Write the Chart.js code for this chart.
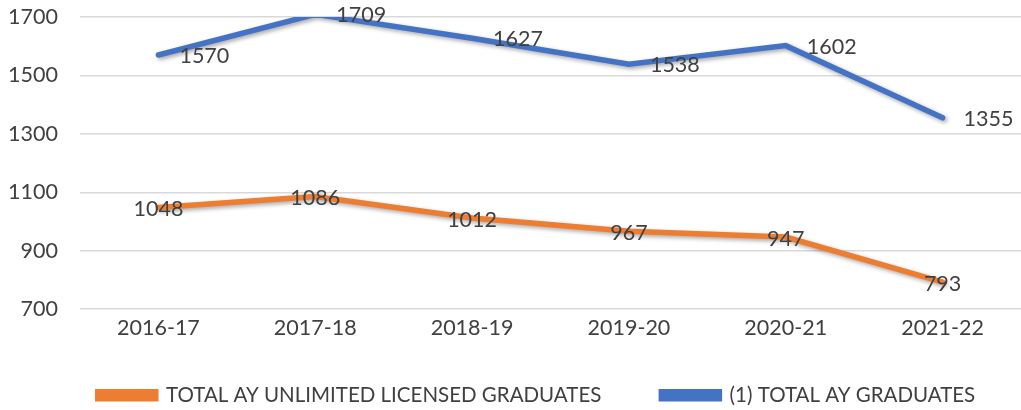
<!DOCTYPE html>
<html>
<head>
<meta charset="utf-8">
<script src="https://cdn.jsdelivr.net/npm/chart.js@4/dist/chart.umd.min.js"></script>
<style>
  html, body { margin: 0; padding: 0; background: #fff; }
  #wrap { width: 1021px; height: 410px; }
</style>
</head>
<body>
<div id="wrap"><canvas id="chart"></canvas></div>
<script>
const years = ['2016-17', '2017-18', '2018-19', '2019-20', '2020-21', '2021-22'];
const licensedGrads = [1048, 1086, 1012, 967, 947, 793];
const totalGrads = [1570, 1709, 1627, 1538, 1602, 1355];
const yTicks = [700, 900, 1100, 1300, 1500, 1700];

const FONT = 'Lato, "Open Sans", sans-serif';
const TEXT = '#404040';

// soft shadow under the lines, like the office chart
const shadowPlugin = {
    id: 'lineShadow',
    beforeDatasetDraw(chart) {
        const ctx = chart.ctx;
        ctx.save();
        ctx.shadowColor = 'rgba(0,0,0,0.35)';
        ctx.shadowBlur = 4;
        ctx.shadowOffsetX = 2;
        ctx.shadowOffsetY = 2;
    },
    afterDatasetDraw(chart) {
        chart.ctx.restore();
    }
};

// value labels: orange centred on the point, blue to the right
const valueLabels = {
    id: 'valueLabels',
    afterDatasetsDraw(chart) {
        const ctx = chart.ctx;
        ctx.save();
        ctx.font = '21.5px ' + FONT;
        ctx.fillStyle = TEXT;
        ctx.textBaseline = 'middle';
        chart.data.datasets.forEach((ds, i) => {
            const meta = chart.getDatasetMeta(i);
            meta.data.forEach((pt, j) => {
                const v = ds.data[j];
                if (i === 0) {
                    ctx.textAlign = 'center';
                    ctx.fillText(v, pt.x, pt.y + 2);
                } else {
                    ctx.textAlign = 'left';
                    ctx.fillText(v, pt.x + 21, pt.y + 1);
                }
            });
        });
        ctx.restore();
    }
};

// legend: wide gaps between items, but keep its box short and nudge it into place
const legendPlace = {
    id: 'legendPlace',
    beforeInit(chart) {
        const fit = chart.legend.fit;
        chart.legend.fit = function () {
            fit.call(this);
            this.height = 63;
        };
    },
    afterLayout(chart) {
        const lg = chart.legend;
        lg.top = 325;
        lg.left += 21;
        lg.right += 21;
    }
};

new Chart(document.getElementById('chart'), {
    type: 'line',
    data: {
        labels: years,
        datasets: [
            {
                label: 'TOTAL AY UNLIMITED LICENSED GRADUATES',
                data: licensedGrads,
                borderColor: '#ED7D31',
                backgroundColor: '#ED7D31',
                borderWidth: 5.5,
                borderCapStyle: 'round',
                pointRadius: 0,
                tension: 0
            },
            {
                label: '(1) TOTAL AY GRADUATES',
                data: totalGrads,
                borderColor: '#4472C4',
                backgroundColor: '#4472C4',
                borderWidth: 5.5,
                borderCapStyle: 'round',
                pointRadius: 0,
                tension: 0
            }
        ]
    },
    options: {
        responsive: true,
        maintainAspectRatio: false,
        animation: false,
        layout: { padding: { top: 17, left: 10, right: 0, bottom: 0 } },
        scales: {
            x: {
                offset: true,
                grid: { display: false, drawTicks: false },
                border: { display: false },
                afterFit(scale) {
                    scale.paddingLeft = 0;
                    scale.paddingRight = 0;
                },
                ticks: { color: TEXT, font: { family: FONT, size: 21.5 }, padding: 6 }
            },
            y: {
                min: 700,
                max: 1700,
                afterBuildTicks(axis) {
                    axis.ticks = yTicks.map(v => ({ value: v }));
                },
                afterFit(scale) {
                    scale.width = 70;
                    scale.paddingTop = 0;
                    scale.paddingBottom = 0;
                },
                grid: { color: '#d9d9d9', lineWidth: 1.5, drawTicks: false },
                border: { display: false },
                ticks: {
                    color: TEXT,
                    font: { family: FONT, size: 21.5 },
                    padding: 22,
                    callback: v => String(v)
                }
            }
        },
        plugins: {
            legend: {
                position: 'bottom',
                labels: {
                    color: TEXT,
                    font: { family: FONT, size: 20.5 },
                    boxWidth: 58,
                    boxHeight: 7,
                    padding: 60
                }
            },
            tooltip: { enabled: false }
        }
    },
    plugins: [shadowPlugin, valueLabels, legendPlace]
});
</script>
</body>
</html>
